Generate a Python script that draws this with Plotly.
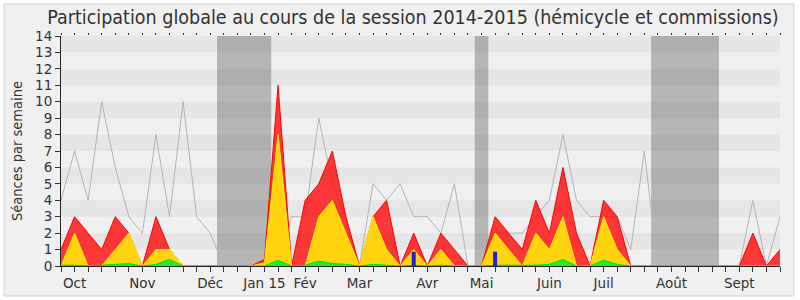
import plotly.graph_objects as go

# ---- data (one value per week, week 0 .. 53) ----
weeks = list(range(54))
total = [4, 7, 4, 10, 6, 3, 2, 8, 3, 10, 3, 2, 0, 0, 0, 0, 0, 3, 3, 9,
         5, 3, 0, 5, 4, 5, 3, 3, 2, 5, 0, 0, 2, 2, 2, 3, 4, 8, 4, 3,
         3, 3, 1, 7, 0, 0, 0, 0, 0, 0, 0, 4, 0, 3]
red = [1, 3, 2, 1, 3, 2, 0, 3, 1, 0, 0, 0, 0, 0, 0, 0.4, 11, 0, 4, 5,
       7, 3, 0, 3, 4, 0, 2, 0, 2, 1, 0, 0, 3, 2, 1, 4, 2, 6, 2, 0,
       4, 3, 0, 0, 0, 0, 0, 0, 0, 0, 0, 2, 0, 1]
yellow = [0, 2, 0, 0, 1, 2, 0, 1, 1, 0, 0, 0, 0, 0, 0, 0.2, 8, 0, 0, 3,
          4, 2, 0, 3, 1, 0, 1, 0, 1, 0, 0, 0, 2, 1, 0, 2, 1, 3, 0, 0,
          3, 1, 0, 0, 0, 0, 0, 0, 0, 0, 0, 0, 0, 0]
green = [0.05, 0.05, 0, 0.05, 0.1, 0.15, 0, 0.1, 0.4, 0, 0, 0, 0, 0, 0, 0, 0.35, 0, 0.05, 0.3,
         0.15, 0.1, 0, 0.1, 0.05, 0, 0.05, 0, 0.05, 0, 0, 0, 0.05, 0.05, 0.05, 0.05, 0.1, 0.4, 0, 0,
         0.35, 0.1, 0, 0, 0, 0, 0, 0, 0, 0, 0, 0, 0, 0]
blue = [0] * 26 + [0.87] + [0] * 5 + [0.87] + [0] * 21

month_weeks = [1, 6, 11, 15, 18, 22, 27, 31, 36, 40, 45, 50]
month_labels = ["Oct", "Nov", "Déc", "Jan 15", "Fév", "Mar", "Avr", "Mai",
                "Juin", "Juil", "Août", "Sept"]
vacations = [(11.5, 15.5), (30.5, 31.5), (43.5, 48.5)]

TFONT = "DejaVu Sans Condensed, DejaVu Sans, sans-serif"
FONT = "DejaVu Sans, Verdana, sans-serif"
W, H = 800, 300
ML, MR, MT, MB = 61, 20, 36, 34
XMAX = weeks[-1]
YMAX = 14

fig = go.Figure()

fig.add_trace(go.Scatter(x=weeks, y=total, mode="lines",
                         line=dict(color="#b4b4b4", width=1),
                         hoverinfo="skip", showlegend=False))
fig.add_trace(go.Scatter(x=weeks, y=red, mode="lines", fill="tozeroy",
                         fillcolor="rgba(255,0,0,0.77)",
                         line=dict(color="#ff0000", width=1),
                         showlegend=False))
fig.add_trace(go.Scatter(x=weeks, y=yellow, mode="lines", fill="tozeroy",
                         fillcolor="#ffd40f",
                         line=dict(color="#ffee00", width=1),
                         showlegend=False))
fig.add_trace(go.Scatter(x=weeks, y=green, mode="lines", fill="tozeroy",
                         fillcolor="#22ee22",
                         line=dict(color="#00e000", width=1),
                         showlegend=False))

bx, by = [], []
for w, v in zip(weeks, blue):
    if v > 0:
        bx += [w, w, None]
        by += [0, v, None]
fig.add_trace(go.Scatter(x=bx, y=by, mode="lines",
                         line=dict(color="#2020dd", width=4),
                         showlegend=False))

# dummy trace for top tick axis
fig.add_trace(go.Scatter(x=weeks, y=[None] * len(weeks), xaxis="x2",
                         mode="lines", showlegend=False, hoverinfo="skip"))

shapes = []
pw = W - ML - MR
ph = H - MT - MB
shapes.append(dict(type="rect", xref="paper", yref="paper",
                   x0=(4 - ML) / pw, x1=(794 - ML) / pw,
                   y0=-(H - 4 - (H - MB)) / ph, y1=(H - MB - 4) / ph,
                   fillcolor="#f0f0f0", line=dict(color="#d2d2d2", width=1),
                   layer="below"))
for k in range(1, YMAX, 2):
    shapes.append(dict(type="rect", xref="x", yref="y", x0=0, x1=XMAX,
                       y0=k, y1=k + 1, fillcolor="#e6e6e6",
                       line=dict(width=0), layer="below"))
for a, b in vacations:
    shapes.append(dict(type="rect", xref="x", yref="y", x0=a, x1=b,
                       y0=0, y1=YMAX, fillcolor="rgba(0,0,0,0.24)",
                       line=dict(width=0), layer="below"))

fig.update_layout(
    width=W, height=H,
    margin=dict(l=ML, r=MR, t=MT, b=MB, pad=0, autoexpand=False),
    paper_bgcolor="#ffffff",
    plot_bgcolor="#fafafa",
    font=dict(family=FONT, size=13, color="#333333"),
    title=dict(text="Participation globale au cours de la session 2014-2015 (hémicycle et commissions)",
               x=413 / W, xanchor="center", y=1 - 17 / H, yanchor="middle",
               font=dict(family=TFONT, size=19.5, color="#333333")),
    shapes=shapes,
    showlegend=False,
    xaxis=dict(range=[0, XMAX], tickvals=month_weeks, ticktext=month_labels,
               ticks="outside", ticklen=5, tickcolor="#333333",
               minor=dict(dtick=1, tick0=0, ticks="outside", ticklen=5,
                          tickcolor="#333333", showgrid=False),
               showline=True, linecolor="#222222", linewidth=1,
               showgrid=False, zeroline=False, fixedrange=True,
               automargin=False, tickfont=dict(size=13.5)),
    xaxis2=dict(range=[0, XMAX], overlaying="x", side="top",
                tickvals=weeks, ticks="outside", ticklen=2,
                tickcolor="#333333", showticklabels=False,
                showline=False, showgrid=False, zeroline=False,
                automargin=False),
    yaxis=dict(range=[0, YMAX], dtick=1, tick0=0,
               ticks="outside", ticklen=5, tickcolor="#333333",
               showline=True, linecolor="#222222", linewidth=1,
               showgrid=False, zeroline=False, automargin=False,
               title=dict(text="Séances par semaine", standoff=9,
                          font=dict(family=TFONT, size=14.5)),
               tickfont=dict(size=13.5)),
)

fig.write_html("out.html")
